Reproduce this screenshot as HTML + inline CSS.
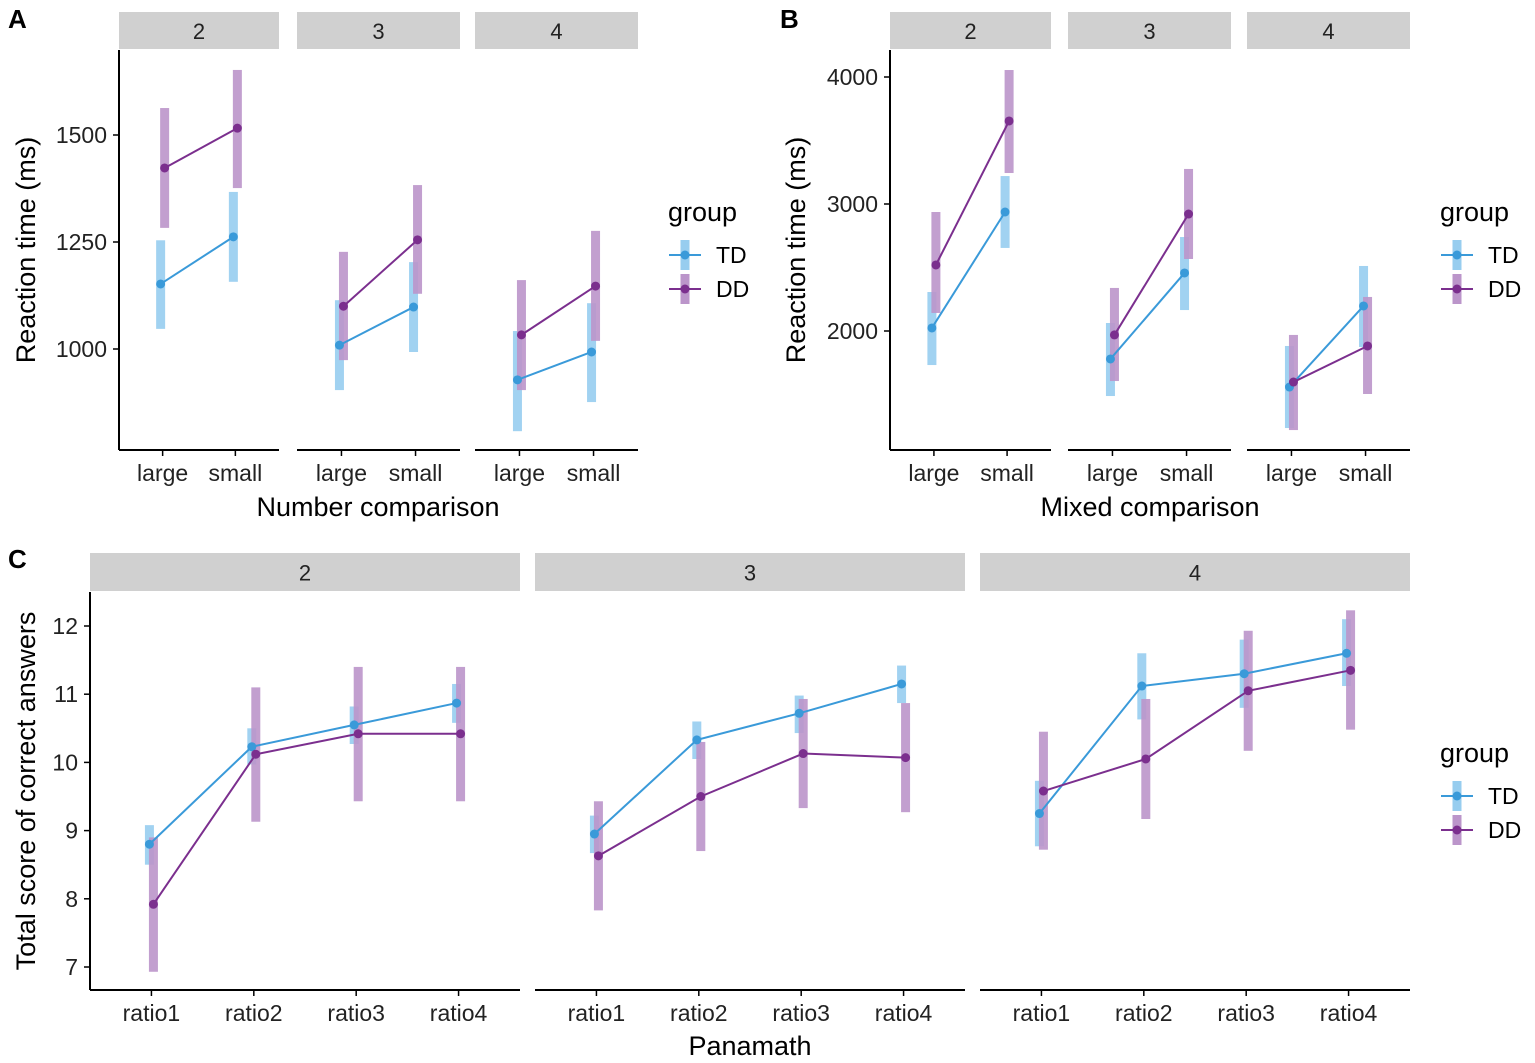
<!DOCTYPE html>
<html><head><meta charset="utf-8">
<style>
html,body{margin:0;padding:0;background:#fff;}
svg{display:block;font-family:"Liberation Sans",Arial,sans-serif;}
</style></head>
<body>
<svg id="chart" width="1535" height="1063" viewBox="0 0 1535 1063"></svg>
<script>
// ---------- DATA ----------
const facets = ["2","3","4"];
const sizeCats = ["large","small"];
const ratioCats = ["ratio1","ratio2","ratio3","ratio4"];
// Panel A: Number comparison (ms) [facet][category]
const aTD = [[1152,1262],[1009,1098],[928,993]];
const aTDlo = [[1047,1157],[904,993],[808,876]];
const aTDhi = [[1254,1367],[1114,1203],[1042,1107]];
const aDD = [[1423,1516],[1100,1255],[1033,1147]];
const aDDlo = [[1283,1376],[974,1129],[904,1019]];
const aDDhi = [[1563,1652],[1227,1383],[1161,1276]];
const aTicks = [1000,1250,1500];
// Panel B: Mixed comparison (ms)
const bTD = [[2024,2937],[1780,2457],[1559,2197]];
const bTDlo = [[1732,2654],[1488,2165],[1236,1874]];
const bTDhi = [[2307,3220],[2063,2740],[1882,2512]];
const bDD = [[2520,3654],[1969,2921],[1598,1882]];
const bDDlo = [[2142,3244],[1606,2567],[1220,1504]];
const bDDhi = [[2937,4055],[2339,3276],[1969,2268]];
const bTicks = [2000,3000,4000];
// Panel C: Panamath scores
const cTD = [[8.80,10.23,10.55,10.87],[8.95,10.33,10.72,11.15],[9.25,11.12,11.30,11.60]];
const cTDlo = [[8.50,9.97,10.27,10.58],[8.67,10.05,10.43,10.87],[8.77,10.63,10.80,11.12]];
const cTDhi = [[9.08,10.50,10.82,11.15],[9.22,10.60,10.98,11.42],[9.73,11.60,11.80,12.10]];
const cDD = [[7.92,10.12,10.42,10.42],[8.63,9.50,10.13,10.07],[9.58,10.05,11.05,11.35]];
const cDDlo = [[6.93,9.13,9.43,9.43],[7.83,8.70,9.33,9.27],[8.72,9.17,10.17,10.48]];
const cDDhi = [[8.90,11.10,11.40,11.40],[9.43,10.30,10.93,10.87],[10.45,10.93,11.93,12.23]];
const cTicks = [7,8,9,10,11,12];
const groups = ["TD","DD"];

// ---------- DRAWING ----------
const NS="http://www.w3.org/2000/svg";
const svg=document.getElementById('chart');
const COL={TD:"#3a9ad9",DD:"#7b2f8e"};
const CI={TD:"#97cdef",DD:"#bb95ca"};
function el(tag,attrs,parent,text){const e=document.createElementNS(NS,tag);for(const k in attrs)e.setAttribute(k,attrs[k]);if(text!==undefined)e.textContent=text;(parent||svg).appendChild(e);return e;}

function panel(opt){
  const g=el('g',{});
  
  
  const y=v=>opt.y0-(v-opt.v0)*opt.ppu;
  const ax=el('line',{x1:opt.facetX[0][0],x2:opt.facetX[0][0],y1:opt.top,y2:opt.bottom,stroke:"#000","stroke-width":2},g);
  
  opt.ticks.forEach(t=>{
    const yy=y(t);
    el('line',{x1:opt.facetX[0][0]-6,x2:opt.facetX[0][0],y1:yy,y2:yy,stroke:"#000","stroke-width":1.5},g);
    const tl=el('text',{x:opt.facetX[0][0]-12,y:yy+8,"text-anchor":"end","font-size":23,fill:"#222"},g,String(t));
    
  });
  const yt=el('text',{transform:`translate(${opt.ytX},${(opt.top+opt.bottom)/2}) rotate(-90)`,"text-anchor":"middle","font-size":27,fill:"#000"},g,opt.ytitle);
  
  const xt=el('text',{x:opt.xtX,y:opt.xtY,"text-anchor":"middle","font-size":27,fill:"#000"},g,opt.xtitle);
  
  const n=opt.cats.length;
  facets.forEach((f,fi)=>{
    const [x0,x1]=opt.facetX[fi];
    const xs=i=>x0+(x1-x0)*(i+0.6)/(n+0.2);
    const st=el('rect',{x:x0,y:opt.stripTop,width:x1-x0,height:opt.top-opt.stripTop-1,fill:"#d0d0d0"},g);
    
    el('text',{x:(x0+x1)/2,y:(opt.stripTop+opt.top)/2+8,"text-anchor":"middle","font-size":22,fill:"#222"},g,f);
    const xa=el('line',{x1:x0,x2:x1,y1:opt.bottom,y2:opt.bottom,stroke:"#000","stroke-width":2},g);
    
    opt.cats.forEach((c,i)=>{
      el('line',{x1:xs(i),x2:xs(i),y1:opt.bottom,y2:opt.bottom+6,stroke:"#000","stroke-width":1.5},g);
      const l=el('text',{x:xs(i),y:opt.bottom+31,"text-anchor":"middle","font-size":23,fill:"#222"},g,c);
      
    });
    groups.forEach((gr,gi)=>{
      const m=opt.data[gr].m[fi],lo=opt.data[gr].lo[fi],hi=opt.data[gr].hi[fi];
      const dx=gi===0?-2:2;
      m.forEach((v,i)=>{
        const b=el('rect',{x:xs(i)+dx-4.5,y:y(hi[i]),width:9,height:y(lo[i])-y(hi[i]),fill:CI[gr],opacity:0.9},g);
        
      });
    });
    groups.forEach((gr,gi)=>{
      const m=opt.data[gr].m[fi];const dx=gi===0?-2:2;
      const pts=m.map((v,i)=>`${xs(i)+dx},${y(v)}`).join(' ');
      const pl=el('polyline',{points:pts,fill:"none",stroke:COL[gr],"stroke-width":2},g);
      
      m.forEach((v,i)=>{
        const c=el('circle',{cx:xs(i)+dx,cy:y(v),r:4.5,fill:COL[gr]},g);
        
      });
    });
  });
  const lg=el('g',{},g);
  
  el('text',{x:opt.legX,y:opt.legY,"font-size":27,fill:"#000"},lg,"group");
  groups.forEach((gr,gi)=>{
    const cy=opt.legY+34+gi*34;const cx=opt.legX+17;
    el('rect',{x:cx-4.5,y:cy-15,width:9,height:30,fill:CI[gr]},lg);
    el('line',{x1:cx-16,x2:cx+16,y1:cy,y2:cy,stroke:COL[gr],"stroke-width":2},lg);
    el('circle',{cx:cx,cy:cy,r:4.5,fill:COL[gr]},lg);
    const t=el('text',{x:opt.legX+48,y:cy+8,"font-size":23,fill:"#000"},lg,gr);
    
  });
  const pl=el('text',{x:opt.letX,y:opt.letY,"font-size":26,"font-weight":"bold",fill:"#000"},g,opt.letter);
  
}

panel({name:"panel-a",letter:"A",letX:8,letY:28,facetX:[[119,279],[297,460],[475,638]],stripTop:12,top:50,bottom:450,
  v0:1000,y0:349,ppu:107/250,ticks:aTicks,cats:sizeCats,ytitle:"Reaction time (ms)",ytX:35,xtitle:"Number comparison",xtX:378,xtY:516,
  legX:668,legY:221,data:{TD:{m:aTD,lo:aTDlo,hi:aTDhi},DD:{m:aDD,lo:aDDlo,hi:aDDhi}}});
panel({name:"panel-b",letter:"B",letX:780,letY:28,facetX:[[890,1051],[1068,1231],[1247,1410]],stripTop:12,top:50,bottom:450,
  v0:2000,y0:331,ppu:127/1000,ticks:bTicks,cats:sizeCats,ytitle:"Reaction time (ms)",ytX:805,xtitle:"Mixed comparison",xtX:1150,xtY:516,
  legX:1440,legY:221,data:{TD:{m:bTD,lo:bTDlo,hi:bTDhi},DD:{m:bDD,lo:bDDlo,hi:bDDhi}}});
panel({name:"panel-c",letter:"C",letX:8,letY:568,facetX:[[90,520],[535,965],[980,1410]],stripTop:553,top:592,bottom:990,
  v0:7,y0:967,ppu:68.2,ticks:cTicks,cats:ratioCats,ytitle:"Total score of correct answers",ytX:35,xtitle:"Panamath",xtX:750,xtY:1055,
  legX:1440,legY:762,data:{TD:{m:cTD,lo:cTDlo,hi:cTDhi},DD:{m:cDD,lo:cDDlo,hi:cDDhi}}});
</script>
</body></html>
